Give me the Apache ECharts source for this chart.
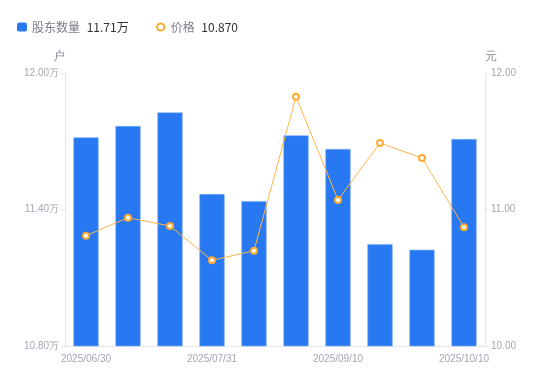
<!DOCTYPE html>
<html>
<head>
<meta charset="utf-8">
<script src="https://cdn.jsdelivr.net/npm/echarts@6/dist/echarts.min.js"></script>
<style>
  html, body { margin: 0; padding: 0; background: #fff; }
  #main { width: 550px; height: 381px; }
</style>
</head>
<body>
<div id="main"></div>
<script>
// dates on the x axis
const dates = ['2025/06/30', '2025/07/10', '2025/07/20', '2025/07/31', '2025/08/15',
  '2025/08/31', '2025/09/10', '2025/09/20', '2025/09/30', '2025/10/10']
// holders, in 万户
const holders = [11.717, 11.767, 11.827, 11.468, 11.437, 11.726, 11.666, 11.248, 11.223, 11.71]
// price, 元
const prices = [10.808, 10.940, 10.879, 10.628, 10.698, 11.826, 11.070, 11.487, 11.377, 10.870]

const lastHolder = holders[holders.length - 1].toFixed(2) + '万'
const lastPrice = prices[prices.length - 1].toFixed(3)

const labelColor = '#a3a7b5'
const lineGray = '#e3e5ea'

const chart = echarts.init(document.getElementById('main'))
chart.setOption({
  animation: false,
  legend: {
    left: 12,
    top: 16,
    itemGap: 26,
    itemWidth: 10,
    itemHeight: 9,
    textStyle: {
      fontFamily: 'Noto Sans CJK SC',
      rich: {
        n: { color: '#7a7d87', fontSize: 12 },
        v: { color: '#303133', fontSize: 12, padding: [0, 0, 0, 4] }
      }
    },
    formatter: function (name) {
      const v = name === '股东数量' ? lastHolder : lastPrice
      return '{n|' + name + '} {v|' + v + '}'
    },
    data: [
      { name: '股东数量', icon: 'roundRect', itemStyle: { borderWidth: 0 } },
      { name: '价格' }
    ]
  },
  grid: { left: 65, right: 65, top: 73, bottom: 35 },
  xAxis: {
    type: 'category',
    data: dates,
    axisLine: { lineStyle: { color: lineGray } },
    axisTick: { show: false },
    axisLabel: { interval: 2, color: labelColor, fontSize: 10, margin: 8 }
  },
  yAxis: [
    {
      type: 'value',
      name: '户',
      nameTextStyle: { color: '#8a8d98', fontSize: 12, align: 'right' },
      nameGap: 10,
      min: 10.8,
      max: 12.0,
      interval: 0.6,
      axisLine: { show: true, lineStyle: { color: lineGray } },
      axisTick: { show: true, length: 4, lineStyle: { color: lineGray } },
      splitLine: { show: false },
      axisLabel: {
        color: labelColor, fontSize: 10, margin: 6,
        formatter: v => v.toFixed(2) + '万'
      }
    },
    {
      type: 'value',
      name: '元',
      nameTextStyle: { color: '#8a8d98', fontSize: 12, align: 'left' },
      nameGap: 10,
      min: 10,
      max: 12,
      interval: 1,
      axisLine: { show: true, lineStyle: { color: lineGray } },
      axisTick: { show: true, length: 4, lineStyle: { color: lineGray } },
      splitLine: { show: false },
      axisLabel: {
        color: labelColor, fontSize: 10, margin: 6,
        formatter: v => v.toFixed(2)
      }
    }
  ],
  series: [
    {
      name: '股东数量',
      type: 'bar',
      yAxisIndex: 0,
      barWidth: '60%',
      data: holders,
      itemStyle: { color: '#2878f2', borderColor: '#7fb0f7', borderWidth: 0.6 }
    },
    {
      name: '价格',
      type: 'line',
      yAxisIndex: 1,
      data: prices,
      symbol: 'circle',
      symbolSize: 6,
      lineStyle: { color: '#fdb64a', width: 1 },
      itemStyle: { color: '#fff', borderColor: '#fbab32', borderWidth: 2 }
    }
  ]
})
</script>
</body>
</html>
